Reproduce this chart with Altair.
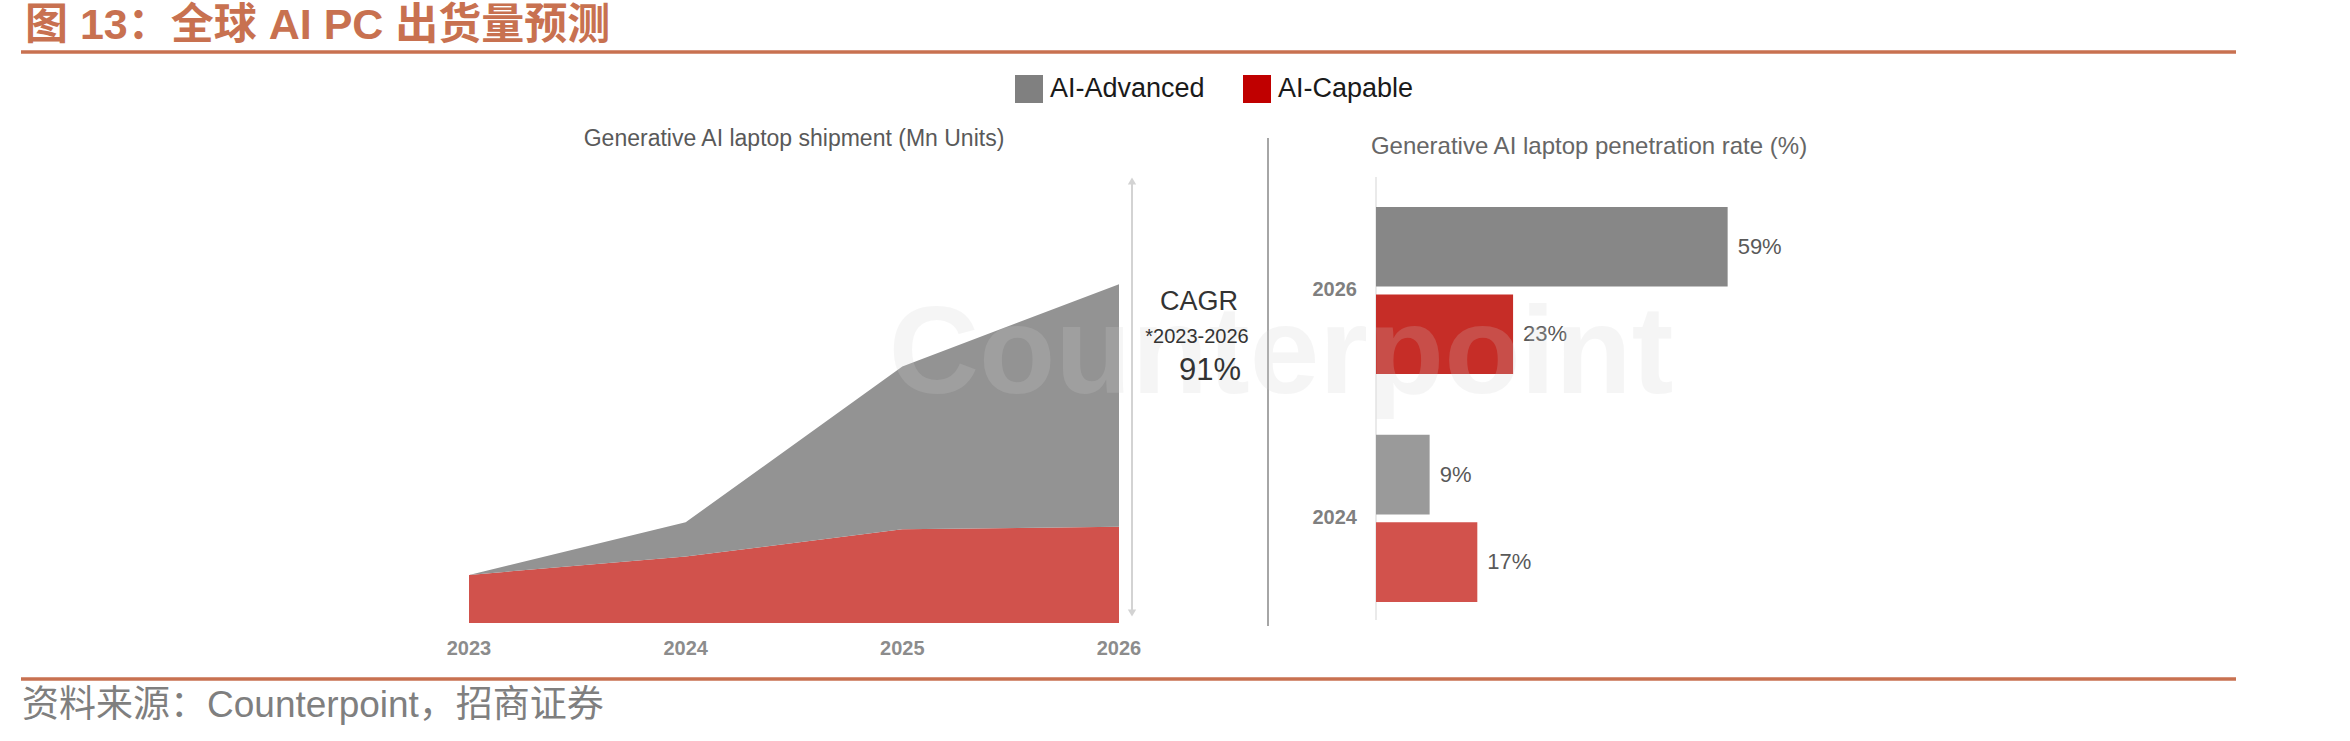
import altair as alt
import pandas as pd

# ---- text ----
TITLE = "图 13：全球 AI PC 出货量预测"
SOURCE = "资料来源：Counterpoint，招商证券"
LEFT_SUB = "Generative AI laptop shipment (Mn Units)"
RIGHT_SUB = "Generative AI laptop penetration rate (%)"
CAGR_LABEL = "CAGR"
CAGR_SPAN = "*2023-2026"
CAGR_VALUE = "91%"
WATERMARK = "Counterpoint"

SERIES = ["AI-Advanced", "AI-Capable"]

# ---- shipments (Mn units), stacked area ----
YEARS = [2023, 2024, 2025, 2026]
CAPABLE_MN = [21, 29, 41, 42]
ADVANCED_MN = [0, 15, 71, 106]

# ---- penetration rate (%), grouped bars ----
PEN_YEARS = ["2026", "2024"]
PEN_ADVANCED = [59, 9]
PEN_CAPABLE = [23, 17]

LATIN = "Liberation Sans, Arial, sans-serif"
MIXED = "Liberation Sans, Noto Sans CJK SC, sans-serif"
ACCENT = "#c87150"

ship = pd.DataFrame(
    [
        {"year": y, "series": s, "value": v, "ord": i}
        for i, (s, vals) in enumerate([("AI-Capable", CAPABLE_MN), ("AI-Advanced", ADVANCED_MN)])
        for y, v in zip(YEARS, vals)
    ]
)

pen = pd.DataFrame(
    [
        {"year": y, "series": s, "value": v, "key": f"{y} {s}", "label": f"{v}%"}
        for y, a, c in zip(PEN_YEARS, PEN_ADVANCED, PEN_CAPABLE)
        for s, v in (("AI-Advanced", a), ("AI-Capable", c))
    ]
)
bar_keys = [f"{y} {s}" for y in PEN_YEARS for s in SERIES]
bar_colors = ["#878787", "#c62d27", "#9a9a9a", "#d2524c"]


def label(text, x, y, size, color, weight="normal", align="center", font=LATIN, opacity=1.0):
    return (
        alt.Chart(pd.DataFrame({"t": [text]}))
        .mark_text(align=align, baseline="middle", font=font, fontSize=size,
                   fontWeight=weight, color=color, opacity=opacity)
        .encode(x=alt.value(x), y=alt.value(y), text="t:N")
    )


def hline(x1, x2, y, color, width):
    return (
        alt.Chart(pd.DataFrame({"a": [0]}))
        .mark_rule(color=color, strokeWidth=width)
        .encode(x=alt.value(x1), x2=alt.value(x2), y=alt.value(y))
    )


def vline(x, y1, y2, color, width):
    return (
        alt.Chart(pd.DataFrame({"a": [0]}))
        .mark_rule(color=color, strokeWidth=width)
        .encode(x=alt.value(x), y=alt.value(y1), y2=alt.value(y2))
    )


# ---- scales ----
x_ship = alt.Scale(domain=[2023, 2026], range=[469, 1119], nice=False, zero=False)
y_ship = alt.Scale(domain=[0, 190], range=[623, 188], nice=False)
x_pen = alt.Scale(domain=[0, 100], range=[1376, 1972], nice=False)
y_pen = alt.Scale(type="band", domain=PEN_YEARS, range=[177, 618], paddingInner=0.267,
                  paddingOuter=0.101, align=0.65)
y_off = alt.Scale(type="band", domain=SERIES, paddingInner=0.09, paddingOuter=0)

# ---- left panel: stacked area ----
area = alt.Chart(ship).mark_area(opacity=1, interpolate="linear").encode(
    x=alt.X("year:Q", scale=x_ship, axis=None),
    y=alt.Y("value:Q", stack="zero", scale=y_ship, axis=None),
    color=alt.Color("series:N", scale=alt.Scale(domain=SERIES, range=["#939393", "#d1524c"]), legend=None),
    order=alt.Order("ord:Q"),
)

year_ticks = alt.Chart(pd.DataFrame({"year": YEARS})).mark_text(
    align="center", baseline="middle", font=LATIN, fontSize=20, fontWeight="bold", color="#8c8c8c"
).encode(
    x=alt.X("year:Q", scale=x_ship, axis=None),
    y=alt.value(649),
    text="year:N",
)

arrow_line = vline(1132, 180, 614, "#d3d3d3", 2)
arrow_up = alt.Chart(pd.DataFrame({"a": [0]})).mark_point(
    shape="triangle-up", filled=True, size=70, color="#d3d3d3", opacity=1
).encode(x=alt.value(1132), y=alt.value(181))
arrow_down = alt.Chart(pd.DataFrame({"a": [0]})).mark_point(
    shape="triangle-down", filled=True, size=70, color="#d3d3d3", opacity=1
).encode(x=alt.value(1132), y=alt.value(613))

# ---- right panel: horizontal grouped bars ----
bars = alt.Chart(pen).mark_bar().encode(
    x=alt.X("value:Q", scale=x_pen, axis=None),
    y=alt.Y("year:N", scale=y_pen, axis=None),
    yOffset=alt.YOffset("series:N", scale=y_off),
    color=alt.Color("key:N", scale=alt.Scale(domain=bar_keys, range=bar_colors), legend=None),
)
bar_labels = alt.Chart(pen).mark_text(
    align="left", baseline="middle", dx=10, font=LATIN, fontSize=22, color="#595959"
).encode(
    x=alt.X("value:Q", scale=x_pen, axis=None),
    y=alt.Y("year:N", scale=y_pen, axis=None),
    yOffset=alt.YOffset("series:N", scale=y_off),
    text="label:N",
)
pen_years = alt.Chart(pd.DataFrame({"year": PEN_YEARS})).mark_text(
    align="right", baseline="middle", font=LATIN, fontSize=20, fontWeight="bold", color="#7f7f7f"
).encode(
    x=alt.value(1357),
    y=alt.Y("year:N", scale=y_pen, axis=None),
    text="year:N",
)

# ---- legend ----
legend_layer = alt.Chart(pd.DataFrame({"series": SERIES})).mark_square(opacity=0, size=1).encode(
    color=alt.Color(
        "series:N",
        scale=alt.Scale(domain=SERIES, range=["#808080", "#c00000"]),
        legend=alt.Legend(
            orient="none", legendX=1015, legendY=75, direction="horizontal", title=None,
            symbolType="square", symbolSize=784, symbolOpacity=1, symbolStrokeWidth=0,
            labelFont=LATIN, labelFontSize=27, labelColor="#1a1a1a", labelOffset=7,
            columnPadding=38, padding=0, labelLimit=0,
        ),
    )
)

layers = [
    hline(21, 2236, 52, ACCENT, 3.5),
    hline(21, 2236, 679, ACCENT, 3.5),
    area,
    year_ticks,
    arrow_line, arrow_up, arrow_down,
    vline(1268, 138, 626, "#a6a6a6", 2),
    vline(1376, 177, 620, "#e3e3e3", 1.5),
    bars,
    bar_labels,
    pen_years,
    label(WATERMARK, 1281, 355, 125, "#d0d0d0", weight="bold", opacity=0.2),
    label(TITLE, 25, 26, 43, ACCENT, weight="bold", align="left", font=MIXED),
    label(SOURCE, 22, 706, 37, "#7f7f7f", align="left", font=MIXED),
    label(LEFT_SUB, 794, 139, 23, "#595959"),
    label(RIGHT_SUB, 1589, 147, 24, "#666666"),
    label(CAGR_LABEL, 1199, 302, 27, "#333333"),
    label(CAGR_SPAN, 1197, 337, 20, "#333333"),
    label(CAGR_VALUE, 1210, 371, 31, "#333333"),
    legend_layer,
]

chart = (
    alt.layer(*layers)
    .resolve_scale(x="independent", y="independent", color="independent", yOffset="independent")
    .properties(width=2350, height=741, padding=0, background="white",
                autosize=alt.AutoSizeParams(type="none"))
    .configure_view(stroke=None)
)

chart.save("out.html", embed_options={"renderer": "svg", "actions": False})
